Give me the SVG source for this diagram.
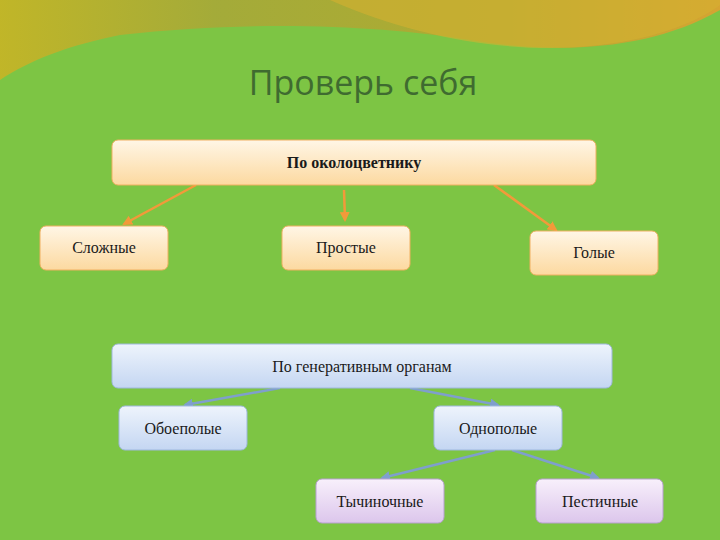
<svg xmlns="http://www.w3.org/2000/svg" width="720" height="540" viewBox="0 0 720 540">
<defs>
<linearGradient id="gO" x1="0" y1="0" x2="0" y2="1"><stop offset="0" stop-color="#fff6e6"/><stop offset="1" stop-color="#fcd9a0"/></linearGradient>
<linearGradient id="gB" x1="0" y1="0" x2="0" y2="1"><stop offset="0" stop-color="#eef4fc"/><stop offset="1" stop-color="#c4d6f2"/></linearGradient>
<linearGradient id="gP" x1="0" y1="0" x2="0" y2="1"><stop offset="0" stop-color="#f8f0fb"/><stop offset="1" stop-color="#dcc6ec"/></linearGradient>
<linearGradient id="band" x1="0" y1="0" x2="1" y2="0"><stop offset="0" stop-color="#c8b425"/><stop offset="0.3" stop-color="#a8a838"/><stop offset="0.7" stop-color="#b4a830"/><stop offset="1" stop-color="#e0a030"/></linearGradient>
<marker id="ao" viewBox="0 0 10 10" refX="8" refY="5" markerWidth="4" markerHeight="4" orient="auto"><path d="M0,0L10,5L0,10z" fill="#f29a3a"/></marker>
<marker id="ab" viewBox="0 0 10 10" refX="8" refY="5" markerWidth="4" markerHeight="4" orient="auto"><path d="M0,0L10,5L0,10z" fill="#7f9fcc"/></marker>
</defs>
<style>
.t{font-family:"Liberation Serif",serif;font-size:16px;fill:#1a1a1a;text-anchor:middle}
.o{fill:url(#gO);stroke:#f0b060;stroke-width:1}
.b{fill:url(#gB);stroke:#9fb8de;stroke-width:1}
.p{fill:url(#gP);stroke:#b8a0d0;stroke-width:1}
.co{stroke:#f29a3a;stroke-width:2.5;fill:none;marker-end:url(#ao)}
.cb{stroke:#7f9fcc;stroke-width:2.5;fill:none;marker-end:url(#ab)}
</style>
<rect width="720" height="540" fill="#7dc544"/>
<path d="M0,0H720V10C650,50 560,55 470,40C380,25 250,20 120,35C70,45 30,60 0,80Z" fill="url(#band)" opacity="0.9"/>
<path d="M330,0C420,40 520,55 600,45C660,38 700,20 720,5V0Z" fill="#d6b030" opacity="0.6"/>
<text x="363" y="95" font-family="Open Sans,sans-serif" font-size="34" fill="#3f6b30" text-anchor="middle">Проверь себя</text>
<g id="connectors">
<path class="co" d="M196,185L124,224"/>
<path class="co" d="M344,190L345,220"/>
<path class="co" d="M494,185L556,230"/>
<path class="cb" d="M280,388L185,405"/>
<path class="cb" d="M410,388L498,405"/>
<path class="cb" d="M495,450L382,478"/>
<path class="cb" d="M512,450L598,478"/>
</g>
<g id="n1"><rect class="o" x="112" y="140" width="484" height="45" rx="6"/><text class="t" x="354" y="168" font-weight="bold" font-size="15">По околоцветнику</text></g>
<g id="n2"><rect class="o" x="40" y="226" width="128" height="44" rx="6"/><text class="t" x="104" y="253">Сложные</text></g>
<g id="n3"><rect class="o" x="282" y="226" width="128" height="44" rx="6"/><text class="t" x="346" y="253">Простые</text></g>
<g id="n4"><rect class="o" x="530" y="231" width="128" height="44" rx="6"/><text class="t" x="594" y="258">Голые</text></g>
<g id="n5"><rect class="b" x="112" y="344" width="500" height="44" rx="6"/><text class="t" x="362" y="372">По генеративным органам</text></g>
<g id="n6"><rect class="b" x="119" y="406" width="128" height="44" rx="6"/><text class="t" x="183" y="434">Обоеполые</text></g>
<g id="n7"><rect class="b" x="434" y="406" width="128" height="44" rx="6"/><text class="t" x="498" y="434">Однополые</text></g>
<g id="n8"><rect class="p" x="316" y="479" width="128" height="44" rx="6"/><text class="t" x="380" y="507">Тычиночные</text></g>
<g id="n9"><rect class="p" x="536" y="479" width="127" height="44" rx="6"/><text class="t" x="600" y="507">Пестичные</text></g>
</svg>
